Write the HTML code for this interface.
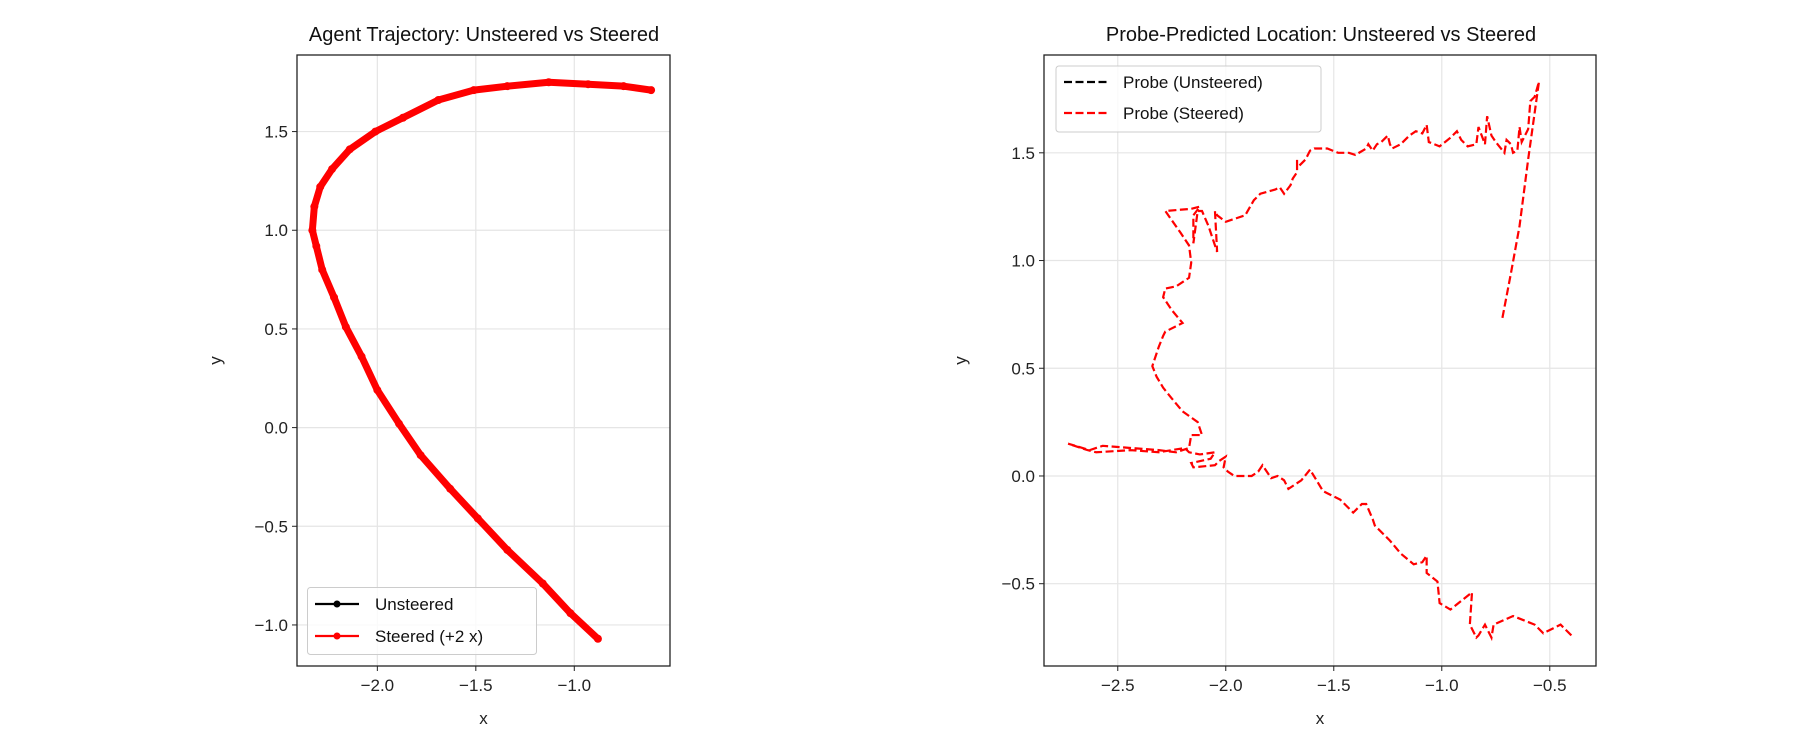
<!DOCTYPE html>
<html><head><meta charset="utf-8"><style>
body{margin:0;background:#fff;}
svg{display:block;font-family:"Liberation Sans","DejaVu Sans",sans-serif;}
</style></head><body>
<svg id="c" width="1800" height="750" viewBox="0 0 1800 750"></svg>
<script>
// Left chart data
const agentX = [-0.88,-1.02,-1.16,-1.34,-1.49,-1.63,-1.78,-1.89,-2.00,-2.08,-2.16,-2.22,-2.28,-2.31,-2.33,-2.32,-2.29,-2.23,-2.14,-2.01,-1.87,-1.69,-1.51,-1.34,-1.13,-0.93,-0.75,-0.61];
const agentY = [-1.07,-0.94,-0.79,-0.62,-0.46,-0.31,-0.14,0.02,0.19,0.36,0.51,0.66,0.80,0.92,1.00,1.12,1.22,1.31,1.41,1.50,1.57,1.66,1.71,1.73,1.75,1.74,1.73,1.71];
const leftXTicks = [-2.0,-1.5,-1.0];
const leftYTicks = [-1.0,-0.5,0.0,0.5,1.0,1.5];
const leftXLabels = ["\u22122.0","\u22121.5","\u22121.0"];
const leftYLabels = ["\u22121.0","\u22120.5","0.0","0.5","1.0","1.5"];
// Right chart data
const probeX = [-0.40,-0.45,-0.53,-0.57,-0.62,-0.67,-0.76,-0.77,-0.80,-0.83,-0.84,-0.87,-0.86,-0.91,-0.96,-1.01,-1.02,-1.07,-1.07,-1.09,-1.13,-1.19,-1.24,-1.31,-1.32,-1.35,-1.37,-1.41,-1.47,-1.53,-1.55,-1.61,-1.65,-1.71,-1.73,-1.76,-1.79,-1.83,-1.85,-1.88,-1.92,-1.96,-1.99,-2.01,-2.00,-2.03,-2.05,-2.15,-2.16,-2.07,-2.05,-2.12,-2.17,-2.19,-2.31,-2.44,-2.60,-2.64,-2.73,-2.63,-2.57,-2.44,-2.31,-2.23,-2.17,-2.16,-2.11,-2.13,-2.20,-2.25,-2.29,-2.32,-2.34,-2.31,-2.29,-2.28,-2.20,-2.25,-2.29,-2.28,-2.23,-2.17,-2.16,-2.17,-2.21,-2.28,-2.16,-2.12,-2.15,-2.15,-2.13,-2.11,-2.08,-2.04,-2.05,-2.04,-2.00,-1.91,-1.87,-1.84,-1.77,-1.75,-1.73,-1.70,-1.69,-1.67,-1.67,-1.67,-1.63,-1.61,-1.59,-1.53,-1.48,-1.43,-1.40,-1.35,-1.34,-1.32,-1.30,-1.28,-1.25,-1.24,-1.23,-1.19,-1.15,-1.12,-1.09,-1.07,-1.06,-1.01,-0.96,-0.93,-0.91,-0.88,-0.84,-0.83,-0.80,-0.79,-0.77,-0.75,-0.71,-0.70,-0.68,-0.67,-0.65,-0.64,-0.63,-0.60,-0.59,-0.57,-0.55,-0.60,-0.64,-0.68,-0.72];
const probeY = [-0.74,-0.69,-0.73,-0.69,-0.67,-0.65,-0.69,-0.75,-0.69,-0.74,-0.75,-0.69,-0.54,-0.58,-0.62,-0.59,-0.49,-0.45,-0.37,-0.40,-0.41,-0.36,-0.30,-0.23,-0.20,-0.13,-0.13,-0.17,-0.11,-0.08,-0.07,0.03,-0.02,-0.06,-0.02,0.00,-0.01,0.05,0.02,0.00,0.00,0.00,0.02,0.04,0.09,0.07,0.05,0.04,0.06,0.08,0.11,0.10,0.11,0.13,0.11,0.12,0.11,0.12,0.15,0.12,0.14,0.13,0.12,0.11,0.13,0.19,0.19,0.25,0.30,0.36,0.41,0.46,0.51,0.60,0.65,0.67,0.71,0.77,0.83,0.87,0.88,0.92,0.99,1.07,1.13,1.23,1.24,1.25,1.21,1.08,1.23,1.23,1.16,1.04,1.23,1.21,1.18,1.21,1.28,1.31,1.33,1.34,1.31,1.35,1.38,1.41,1.47,1.43,1.47,1.51,1.52,1.52,1.50,1.50,1.49,1.52,1.54,1.51,1.54,1.55,1.58,1.54,1.52,1.54,1.58,1.60,1.59,1.63,1.55,1.53,1.57,1.60,1.56,1.53,1.54,1.62,1.54,1.67,1.58,1.55,1.50,1.56,1.54,1.50,1.51,1.62,1.55,1.61,1.74,1.76,1.83,1.47,1.16,0.94,0.73];
const rightXTicks = [-2.5,-2.0,-1.5,-1.0,-0.5];
const rightYTicks = [-0.5,0.0,0.5,1.0,1.5];
const rightXLabels = ["\u22122.5","\u22122.0","\u22121.5","\u22121.0","\u22120.5"];
const rightYLabels = ["\u22120.5","0.0","0.5","1.0","1.5"];

const NS="http://www.w3.org/2000/svg";
const svg=document.getElementById('c');
function mk(tag,attrs,parent){const e=document.createElementNS(NS,tag);for(const k in attrs)e.setAttribute(k,attrs[k]);(parent||svg).appendChild(e);return e;}
function txt(s,attrs,parent){const e=mk('text',attrs,parent);e.textContent=s;return e;}

function axes(name,L,R,T,B,x0,x1,y0,y1,xt,xl,yt,yl,title,tcx,ylx){
  const g=mk('g',{});
  
  
  const sx=v=>L+(v-x0)/(x1-x0)*(R-L);
  const sy=v=>B-(v-y0)/(y1-y0)*(B-T);
  xt.forEach((v,i)=>{
    const gl=mk('line',{x1:sx(v),x2:sx(v),y1:T,y2:B,stroke:'#e5e5e5','stroke-width':1.2},g);
    
    
    mk('line',{x1:sx(v),x2:sx(v),y1:B,y2:B+5,stroke:'#222','stroke-width':1},g);
    const t=txt(xl[i],{x:sx(v),y:B+25,'text-anchor':'middle','font-size':17,fill:'#222'},g);
    
    
  });
  yt.forEach((v,i)=>{
    const gl=mk('line',{x1:L,x2:R,y1:sy(v),y2:sy(v),stroke:'#e5e5e5','stroke-width':1.2},g);
    
    
    mk('line',{x1:L-5,x2:L,y1:sy(v),y2:sy(v),stroke:'#222','stroke-width':1},g);
    const t=txt(yl[i],{x:L-9,y:sy(v)+6,'text-anchor':'end','font-size':17,fill:'#222'},g);
    
    
  });
  const tt=txt(title,{x:tcx,y:41,'text-anchor':'middle','font-size':20,fill:'#111'},g);
  
  
  const xa=txt('x',{x:(L+R)/2,y:724,'text-anchor':'middle','font-size':17,fill:'#222'},g);
  
  
  const ya=txt('y',{x:ylx,y:(T+B)/2,'text-anchor':'middle','font-size':17,fill:'#222',transform:`rotate(-90 ${ylx} ${(T+B)/2})`},g);
  
  
  return {g,sx,sy,frame:()=>mk('rect',{x:L,y:T,width:R-L,height:B-T,fill:'none',stroke:'#222','stroke-width':1.3},g)};
}

// Left chart
const A=axes('trajectory-chart',297,670,55,666,-2.408,-0.514,-1.208,1.888,leftXTicks,leftXLabels,leftYTicks,leftYLabels,'Agent Trajectory: Unsteered vs Steered',484,221);
const pts=agentX.map((v,i)=>A.sx(v)+','+A.sy(agentY[i])).join(' ');
const band=mk('polyline',{points:pts,fill:'none',stroke:'#ff0000','stroke-width':7,'stroke-linejoin':'round','stroke-linecap':'round'},A.g);


agentX.forEach((v,i)=>{
  const c=mk('circle',{cx:A.sx(v),cy:A.sy(agentY[i]),r:4,fill:'#ff0000'},A.g);
  
  
});
A.frame();
// left legend
const lg=mk('g',{});


mk('rect',{x:307.5,y:587.5,width:229,height:67,rx:3,fill:'#fff','fill-opacity':0.8,stroke:'#ccc'},lg);
mk('line',{x1:315,x2:359,y1:604,y2:604,stroke:'#000','stroke-width':2.2},lg);
mk('circle',{cx:337,cy:604,r:3.5,fill:'#000'},lg);
const l1=txt('Unsteered',{x:375,y:610,'font-size':17,fill:'#111'},lg);


mk('line',{x1:315,x2:359,y1:636,y2:636,stroke:'#ff0000','stroke-width':2.2},lg);
mk('circle',{cx:337,cy:636,r:3.5,fill:'#ff0000'},lg);
const l2=txt('Steered (+2 x)',{x:375,y:642,'font-size':17,fill:'#111'},lg);



// Right chart
const B=axes('probe-chart',1044,1596,55,666,-2.8415,-0.286,-0.882,1.954,rightXTicks,rightXLabels,rightYTicks,rightYLabels,'Probe-Predicted Location: Unsteered vs Steered',1321,966);
const pp=probeX.map((v,i)=>B.sx(v)+','+B.sy(probeY[i])).join(' ');
const pl=mk('polyline',{points:pp,fill:'none',stroke:'#ff0000','stroke-width':2.2,'stroke-dasharray':'8,3.5'},B.g);


B.frame();
const rg=mk('g',{});


mk('rect',{x:1056,y:66,width:265,height:66,rx:3,fill:'#fff','fill-opacity':0.8,stroke:'#ccc'},rg);
mk('line',{x1:1064,x2:1107,y1:82,y2:82,stroke:'#000','stroke-width':2.2,'stroke-dasharray':'8,3.5'},rg);
const r1=txt('Probe (Unsteered)',{x:1123,y:88,'font-size':17,fill:'#111'},rg);


mk('line',{x1:1064,x2:1107,y1:113,y2:113,stroke:'#ff0000','stroke-width':2.2,'stroke-dasharray':'8,3.5'},rg);
const r2=txt('Probe (Steered)',{x:1123,y:119,'font-size':17,fill:'#111'},rg);


</script>
</body></html>
